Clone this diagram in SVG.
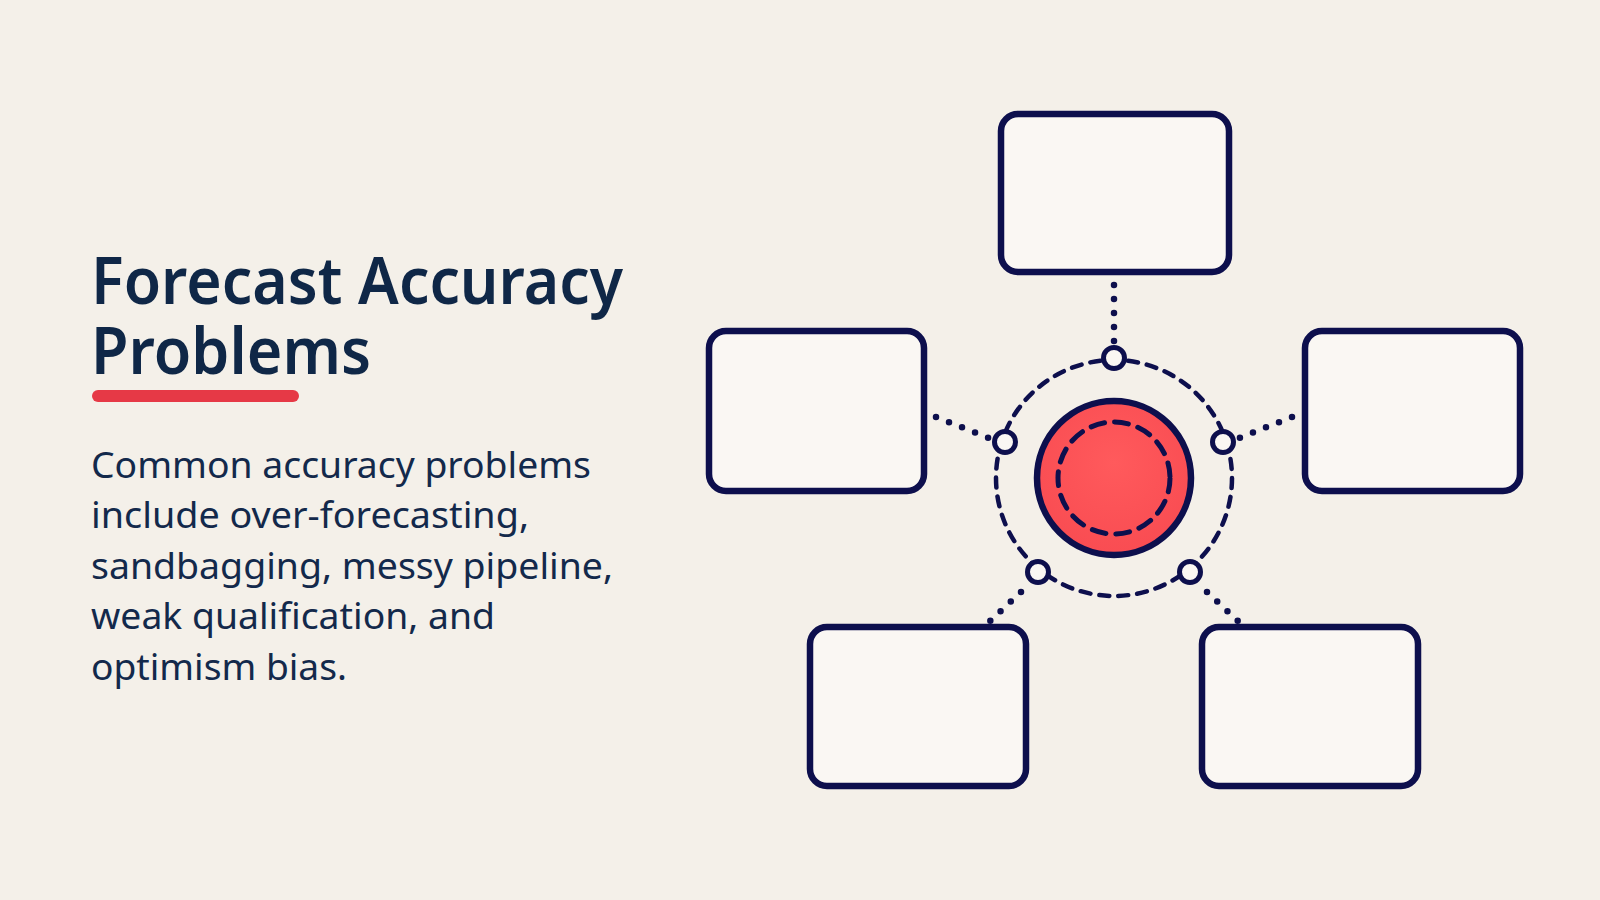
<svg xmlns="http://www.w3.org/2000/svg" width="1600" height="900" viewBox="0 0 1600 900">
  <defs>
    <radialGradient id="redGrad" cx="50%" cy="40%" r="60%">
      <stop offset="0%" stop-color="#ff5a5c"/>
      <stop offset="100%" stop-color="#f94c52"/>
    </radialGradient>
  </defs>
  <style>
    .title { font-family: "Noto Sans", "Open Sans", "DejaVu Sans", sans-serif; font-weight: 600; font-size: 65px; fill: #0f2747; }
    .body { font-family: "Noto Sans", "Open Sans", "DejaVu Sans", sans-serif; font-weight: 400; font-size: 36.5px; fill: #13294b; }
    .box { fill: #faf7f3; stroke: #0d0f4d; stroke-width: 6.5; }
    .dots { fill: none; stroke: #0d0f4d; stroke-width: 6.5; stroke-linecap: round; stroke-dasharray: 0 14; }
    .ring { fill: none; stroke: #0d0f4d; stroke-width: 4.5; stroke-linecap: round; stroke-dasharray: 10 9; }
    .inner { fill: none; stroke: #0d0f4d; stroke-width: 5; stroke-linecap: round; stroke-dasharray: 14 10; }
    .port { fill: #faf7f3; stroke: #0d0f4d; stroke-width: 5; }
  </style>

  <rect width="1600" height="900" fill="#f4f0e9"/>

  <g id="title">
    <text class="title" x="91" y="304" textLength="532" lengthAdjust="spacingAndGlyphs">Forecast Accuracy</text>
    <text class="title" x="91" y="374" textLength="280" lengthAdjust="spacingAndGlyphs">Problems</text>
    <line x1="98" y1="396" x2="293" y2="396" stroke="#e63946" stroke-width="12" stroke-linecap="round"/>
  </g>

  <g id="description">
    <text class="body" x="91" y="477.5" textLength="500" lengthAdjust="spacingAndGlyphs">Common accuracy problems</text>
    <text class="body" x="91" y="528" textLength="438" lengthAdjust="spacingAndGlyphs">include over-forecasting,</text>
    <text class="body" x="91" y="578.5" textLength="522" lengthAdjust="spacingAndGlyphs">sandbagging, messy pipeline,</text>
    <text class="body" x="91" y="629" textLength="404" lengthAdjust="spacingAndGlyphs">weak qualification, and</text>
    <text class="body" x="91" y="679.5" textLength="256" lengthAdjust="spacingAndGlyphs">optimism bias.</text>
  </g>

  <g id="connectors">
    <line class="dots" x1="1114" y1="285" x2="1114" y2="343"/>
    <line class="dots" x1="936" y1="417" x2="989" y2="438"/>
    <line class="dots" x1="1292" y1="417" x2="1239" y2="438"/>
    <line class="dots" x1="1021" y1="592" x2="990" y2="621"/>
    <line class="dots" x1="1207" y1="592" x2="1238" y2="621"/>
  </g>

  <g id="hub">
    <circle class="ring" cx="1114" cy="478" r="118"/>
    <circle cx="1114" cy="478" r="77" fill="url(#redGrad)" stroke="#0d0f4d" stroke-width="6.5"/>
    <circle class="inner" cx="1114" cy="478" r="56"/>
  </g>

  <g id="ports">
    <circle class="port" cx="1114" cy="358" r="10.5"/>
    <circle class="port" cx="1005" cy="442" r="10.5"/>
    <circle class="port" cx="1223" cy="442" r="10.5"/>
    <circle class="port" cx="1038" cy="572" r="10.5"/>
    <circle class="port" cx="1190" cy="572" r="10.5"/>
  </g>

  <g id="node-top"><rect class="box" x="1001" y="114" width="228" height="158" rx="17"/></g>
  <g id="node-left"><rect class="box" x="709" y="331" width="215" height="160" rx="17"/></g>
  <g id="node-right"><rect class="box" x="1305" y="331" width="215" height="160" rx="17"/></g>
  <g id="node-bottom-left"><rect class="box" x="810" y="627" width="216" height="159" rx="17"/></g>
  <g id="node-bottom-right"><rect class="box" x="1202" y="627" width="216" height="159" rx="17"/></g>
</svg>
